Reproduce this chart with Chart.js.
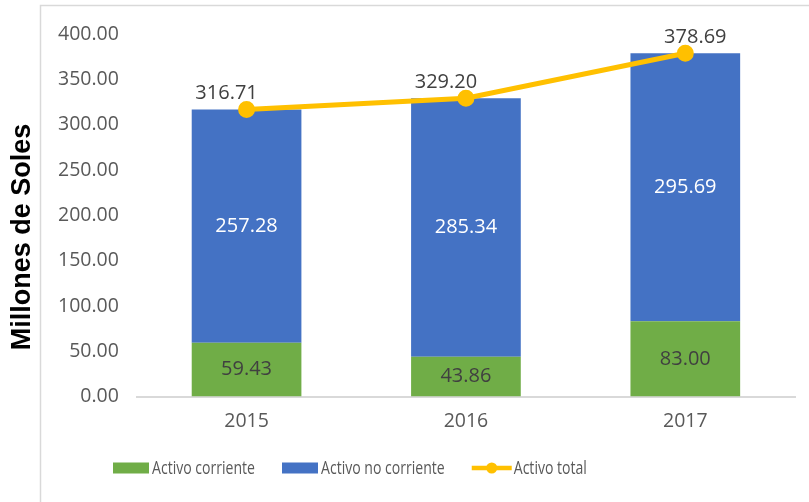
<!DOCTYPE html>
<html>
<head>
<meta charset="utf-8">
<script src="https://cdn.jsdelivr.net/npm/chart.js@4.4.0/dist/chart.umd.min.js"></script>
<style>
  html, body { margin: 0; padding: 0; background: #fff; }
  #wrap { width: 809px; height: 502px; }
</style>
</head>
<body>
<div id="wrap"><canvas id="chart" width="809" height="502"></canvas></div>
<script>
const years = ['2015', '2016', '2017'];
const activoCorriente = [59.43, 43.86, 83.00];
const activoNoCorriente = [257.28, 285.34, 295.69];
const activoTotal = [316.71, 329.20, 378.69];
const yTicks = [0, 50, 100, 150, 200, 250, 300, 350, 400];

const GREEN = '#70AD47';
const BLUE = '#4472C4';
const GOLD = '#FFC000';
const GREY_TEXT = '#595959';
const FONT = "'Open Sans', sans-serif";

// where the total labels sit relative to their point (Excel nudged them by hand)
const totalLabelDx = [-20, -20, 10];

const ctx = document.getElementById('chart').getContext('2d');

const decorations = {
    id: 'decorations',
    afterDraw(chart) {
        const c = chart.ctx;
        c.save();

        // outer frame (left + top edge)
        c.strokeStyle = '#d9d9d9';
        c.lineWidth = 1.5;
        c.beginPath();
        c.moveTo(40.5, 502);
        c.lineTo(40.5, 5.5);
        c.lineTo(809, 5.5);
        c.stroke();

        // y axis title
        c.save();
        c.translate(23, 237);
        c.rotate(-Math.PI / 2);
        c.fillStyle = '#000';
        c.font = "bold 27px 'Liberation Sans', Arial, sans-serif";
        c.textAlign = 'center';
        c.textBaseline = 'middle';
        c.fillText('Millones de Soles', 0, 0);
        c.restore();

        // bar value labels
        c.font = '20px ' + FONT;
        c.textAlign = 'center';
        c.textBaseline = 'middle';
        const barSets = [
            { idx: 0, values: activoCorriente, color: '#404040' },
            { idx: 1, values: activoNoCorriente, color: '#ffffff' }
        ];
        barSets.forEach(s => {
            chart.getDatasetMeta(s.idx).data.forEach((bar, i) => {
                const p = bar.getProps(['x', 'y', 'base'], true);
                c.fillStyle = s.color;
                c.fillText(s.values[i].toFixed(2), p.x, (p.y + p.base) / 2);
            });
        });

        // total labels above the line points
        c.fillStyle = '#404040';
        chart.getDatasetMeta(2).data.forEach((pt, i) => {
            c.fillText(activoTotal[i].toFixed(2), pt.x + totalLabelDx[i], pt.y - 16);
        });

        // legend (text is squeezed horizontally like the original)
        const ly = 468;
        let x = 113;
        c.font = '19px ' + FONT;
        c.textAlign = 'left';
        c.textBaseline = 'middle';
        const squeeze = 103 / c.measureText(chart.data.datasets[0].label).width;
        const items = [
            { label: chart.data.datasets[0].label, type: 'box', color: GREEN },
            { label: chart.data.datasets[1].label, type: 'box', color: BLUE },
            { label: chart.data.datasets[2].label, type: 'line', color: GOLD }
        ];
        items.forEach(it => {
            if (it.type === 'box') {
                c.fillStyle = it.color;
                c.fillRect(x, ly - 5.5, 36, 11);
                x += 39;
            } else {
                c.strokeStyle = it.color;
                c.lineWidth = 4.5;
                c.beginPath();
                c.moveTo(x, ly);
                c.lineTo(x + 40, ly);
                c.stroke();
                c.fillStyle = it.color;
                c.beginPath();
                c.arc(x + 20, ly, 5.5, 0, Math.PI * 2);
                c.fill();
                x += 42;
            }
            c.save();
            c.translate(x, ly + 1);
            c.scale(squeeze, 1);
            c.fillStyle = GREY_TEXT;
            c.fillText(it.label, 0, 0);
            c.restore();
            x += c.measureText(it.label).width * squeeze + 27;
        });

        c.restore();
    }
};

new Chart(ctx, {
    type: 'bar',
    data: {
        labels: years,
        datasets: [
            {
                label: 'Activo corriente',
                data: activoCorriente,
                backgroundColor: GREEN,
                stack: 'bars',
                order: 2,
                categoryPercentage: 0.5,
                barPercentage: 1
            },
            {
                label: 'Activo no corriente',
                data: activoNoCorriente,
                backgroundColor: BLUE,
                stack: 'bars',
                order: 2,
                categoryPercentage: 0.5,
                barPercentage: 1
            },
            {
                type: 'line',
                label: 'Activo total',
                data: activoTotal,
                borderColor: GOLD,
                backgroundColor: GOLD,
                borderWidth: 5,
                pointRadius: 6,
                pointHoverRadius: 6,
                pointBackgroundColor: GOLD,
                pointBorderColor: GOLD,
                tension: 0,
                stack: 'line',
                order: 1
            }
        ]
    },
    options: {
        responsive: false,
        animation: false,
        layout: {
            padding: { left: 40, right: 14, top: 34, bottom: 56 }
        },
        plugins: {
            legend: { display: false },
            tooltip: { enabled: false }
        },
        scales: {
            x: {
                stacked: true,
                grid: { display: false, drawTicks: false },
                border: { display: true, color: '#d9d9d9', width: 2 },
                ticks: {
                    color: GREY_TEXT,
                    font: { family: FONT, size: 19.5 },
                    padding: 13
                }
            },
            y: {
                stacked: true,
                min: yTicks[0],
                max: yTicks[yTicks.length - 1],
                grid: { display: false, drawTicks: false },
                border: { display: false },
                afterBuildTicks: axis => {
                    axis.ticks = yTicks.map(v => ({ value: v }));
                },
                ticks: {
                    color: GREY_TEXT,
                    font: { family: FONT, size: 19.5 },
                    padding: 18,
                    callback: v => Number(v).toFixed(2)
                }
            }
        }
    },
    plugins: [decorations]
});
</script>
</body>
</html>
